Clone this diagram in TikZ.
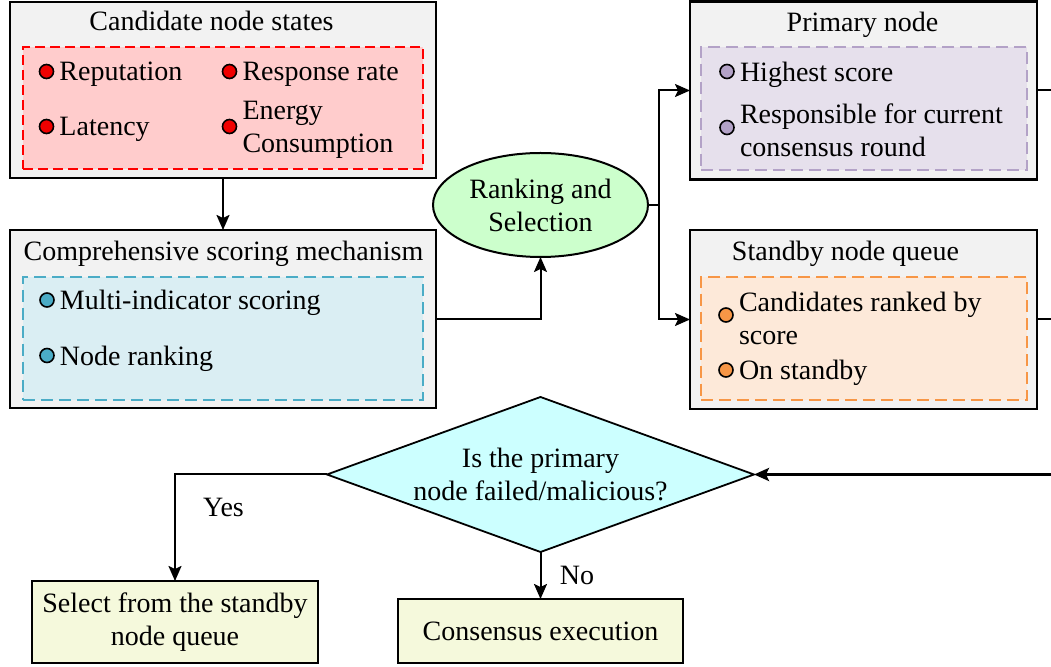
\documentclass[tikz,border=0pt]{standalone}
\usepackage{fontspec}
\setmainfont{Liberation Serif}
\usetikzlibrary{positioning,shapes.geometric,arrows.meta}

\definecolor{boxgray}{HTML}{F2F2F2}
\definecolor{redline}{HTML}{FF0000}
\definecolor{redfill}{HTML}{FFCCCC}
\definecolor{reddot}{HTML}{F00000}
\definecolor{cyanline}{HTML}{4BACC6}
\definecolor{cyanfill}{HTML}{DAEEF3}
\definecolor{purpleline}{HTML}{B3A2C7}
\definecolor{purplefill}{HTML}{E6E0EC}
\definecolor{orangeline}{HTML}{F79646}
\definecolor{orangefill}{HTML}{FDE9D9}
\definecolor{rankgreen}{HTML}{CCFFCC}
\definecolor{checkcyan}{HTML}{CCFFFF}
\definecolor{endyellow}{HTML}{F5F9DC}

\begin{document}
\begin{tikzpicture}[x=0.5pt,y=-0.5pt,inner sep=0pt,outer sep=0pt,line width=1pt,
font=\fontsize{14}{16.5}\selectfont,
>={Stealth[length=7.5pt,width=6.5pt,inset=1.5pt]},
outerbox/.style={draw,rectangle,fill=boxgray,line width=1.2pt},
innerbox/.style={draw,rectangle,line width=1pt,dash pattern=on 6pt off 3pt},
bulletdot/.style={draw,circle,minimum size=7pt,line width=0.8pt},
itemtext/.style={align=left,yshift=-1.5pt},
endbox/.style={draw,rectangle,fill=endyellow,line width=1.2pt}]

\useasboundingbox (0,0) rectangle (1051,667);

% candidate node states
\draw (223,90) node[outerbox,minimum width=213pt,minimum height=88pt] (cand) {};
\draw (211.5,31) node[anchor=base] (candtitle) {Candidate node states};
\draw (223,108) node[innerbox,draw=redline,fill=redfill,dash pattern=on 5pt off 2.5pt,minimum width=200pt,minimum height=61pt] (candin) {};
\draw (46.5,71.5) node[bulletdot,fill=reddot] (repdot) {};
\node[itemtext,right=3pt of repdot] (reptxt) {Reputation};
\draw (229.5,71.5) node[bulletdot,fill=reddot] (respdot) {};
\node[itemtext,right=3pt of respdot] (resptxt) {Response rate};
\draw (46.5,126.5) node[bulletdot,fill=reddot] (latdot) {};
\node[itemtext,right=3pt of latdot] (lattxt) {Latency};
\draw (229.5,126.5) node[bulletdot,fill=reddot] (engdot) {};
\node[itemtext,right=3pt of engdot] (engtxt) {Energy\\Consumption};

% scoring mechanism
\draw (223,319) node[outerbox,minimum width=213pt,minimum height=89pt] (score) {};
\draw (223.5,260.7) node[anchor=base] (scoretitle) {Comprehensive scoring mechanism};
\draw (223,338.5) node[innerbox,draw=cyanline,fill=cyanfill,minimum width=200pt,minimum height=61.5pt] (scorein) {};
\draw (47,300) node[bulletdot,fill=cyanline] (multdot) {};
\node[itemtext,right=3pt of multdot] (multtxt) {Multi-indicator scoring};
\draw (47,355.5) node[bulletdot,fill=cyanline] (rankdot) {};
\node[itemtext,right=3pt of rankdot] (ranktxt) {Node ranking};

% primary node
\draw (863.5,90.5) node[outerbox,minimum width=173.5pt,minimum height=89pt] (primary) {};
\draw (862.5,32) node[anchor=base] (primtitle) {Primary node};
\draw (864,108.5) node[innerbox,draw=purpleline,fill=purplefill,minimum width=163pt,minimum height=61.5pt] (primin) {};
\draw (727,71.5) node[bulletdot,fill=purpleline] (highdot) {};
\node[itemtext,right=3pt of highdot] (hightxt) {Highest score};
\draw (727,127.5) node[bulletdot,fill=purpleline] (respodot) {};
\node[itemtext,right=3pt of respodot] (respotxt) {Responsible for current\\consensus round};

% standby node queue
\draw (863.5,319.5) node[outerbox,minimum width=173.5pt,minimum height=89.5pt] (standby) {};
\draw (845.5,260.7) node[anchor=base] (standtitle) {Standby node queue};
\draw (864,338.5) node[innerbox,draw=orangeline,fill=orangefill,minimum width=163pt,minimum height=61.5pt] (standin) {};
\draw (726,315) node[bulletdot,fill=orangeline] (canddot) {};
\node[itemtext,right=3pt of canddot] (candtxt) {Candidates ranked by\\score};
\draw (726,370) node[bulletdot,fill=orangeline] (ondot) {};
\node[itemtext,right=3pt of ondot] (ontxt) {On standby};

% selection and check
\draw (540.5,205) node[draw,ellipse,fill=rankgreen,minimum width=107.5pt,minimum height=52pt,align=center] (rank) {Ranking and\\Selection};
\draw (540.5,474.5) node[draw,diamond,aspect=2.75,fill=checkcyan,minimum width=213.5pt,minimum height=77.5pt,align=center,line width=0.9pt] (check) {Is the primary\\node failed/malicious?};
\draw (175,622) node[endbox,minimum width=143pt,minimum height=41pt,align=center] (select) {Select from the standby\\node queue};
\draw (540.5,631) node[endbox,minimum width=142.5pt,minimum height=32pt] (cons) {Consensus execution};

% connectors
\coordinate (split) at (659,205);
\coordinate (primout) at (1051,90.5);
\coordinate (standout) at (1051,319.5);
\coordinate (loopin) at (1051,474.5);

\draw[->] (cand.south) -- (score.north);
\draw[->] (score.east) -| (rank.south);
\draw (rank.east) -- (split);
\draw[->] (split) |- (primary.west);
\draw[->] (split) |- (standby.west);
\draw (primary.east) -- (primout);
\draw (standby.east) -- (standout);
\draw[->,line width=1.5pt] (loopin) -- (check.east);
\draw[->] (check.west) -| (select.north);
\draw[->] (check.south) -- (cons.north);
\draw (223.5,517) node[anchor=base] (yes) {Yes};
\draw (577,585) node[anchor=base] (no) {No};

\end{tikzpicture}
\end{document}
